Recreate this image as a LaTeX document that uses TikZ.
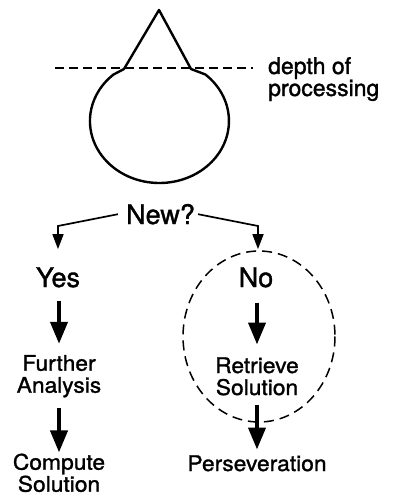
\documentclass[tikz,border=0pt]{standalone}
\usepackage{fontspec}
\setmainfont[FakeBold=1.3]{TeX Gyre Heros}
\newfontfamily\smallf[FakeStretch=1.06,FakeBold=1.3]{TeX Gyre Heros}
\usetikzlibrary{arrows.meta}
\begin{document}
\begin{tikzpicture}[x=1pt,y=-1pt,
  biglbl/.style={inner sep=0pt, anchor=base, font=\fontsize{27}{27}\selectfont},
  smllbl/.style={inner sep=0pt, anchor=base, align=center, font=\smallf\fontsize{21.5}{22}\selectfont},
  thinarrow/.style={line width=1.7pt, -{Triangle[length=15pt,width=11pt]}},
  bigarrow/.style={line width=4pt, -{Triangle[length=22pt,width=17pt]}},
  dashline/.style={line width=1.4pt, dash pattern=on 9pt off 5pt}]
\useasboundingbox (0,0) rectangle (397,500);
% bulb with cone
\draw[line width=2.4pt, line join=round]
  (113.6,74.5) -- (124,69) -- (159,10) -- (191,69) -- (205.4,74.5)
  arc[start angle=-48.6, end angle=228.6, x radius=69.5, y radius=62] -- cycle;
\draw[dashline] (55,68) -- (253,68);
\node[inner sep=0pt, anchor=base west, align=left, font=\fontsize{23}{22}\selectfont] (depth) at (268,96) {depth of\\processing};
% question
\node[biglbl] (new) at (160.5,224) {New?};
\node[biglbl] (yes) at (58,287) {Yes};
\node[biglbl] (no) at (256,287) {No};
\node[smllbl] (further) at (59,392.7) {Further\\Analysis};
\node[smllbl] (retr) at (257,395) {Retrieve\\Solution};
\node[smllbl] (comp) at (59,491.7) {Compute\\Solution};
\node[smllbl] (pers) at (257,471) {Perseveration};
% thin connectors
\coordinate (lbend) at (58,226);
\coordinate (rbend) at (258,226);
\draw[thinarrow, shorten >=18pt] ([xshift=-8pt]new.west) -- (lbend) -- (lbend |- yes.north);
\draw[thinarrow, shorten >=18pt] ([xshift=3pt]new.east) -- (rbend) -- (rbend |- no.north);
% dashed circle
\draw[dashline, line width=1.5pt, dash pattern=on 10pt off 6pt] (259,336.5) ellipse [x radius=76, y radius=85.5];
% thick arrows
\draw[bigarrow] ([yshift=-13pt]yes.south -| further.north) -- ([yshift=11pt]further.north);
\draw[bigarrow] ([yshift=-10.7pt]further.south) -- ([yshift=1pt]comp.north);
\draw[bigarrow] ([yshift=-15pt]no.south -| retr.north) -- ([yshift=12.6pt]retr.north);
\draw[bigarrow] ([yshift=-9.7pt]retr.south) -- ([yshift=5.6pt]pers.north);
\end{tikzpicture}
\end{document}
